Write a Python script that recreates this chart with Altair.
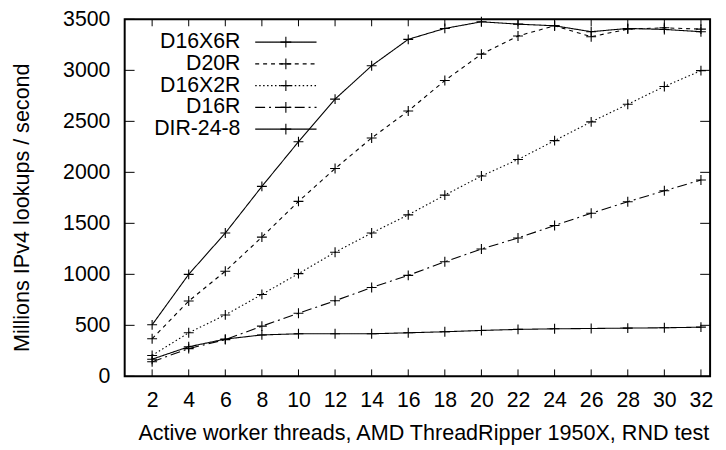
import altair as alt
import pandas as pd

# ---------------- data ----------------
threads = [2, 4, 6, 8, 10, 12, 14, 16, 18, 20, 22, 24, 26, 28, 30, 32]
series_names = ["D16X6R", "D20R", "D16X2R", "D16R", "DIR-24-8"]
d16x6r = [505, 1000, 1405, 1862, 2300, 2718, 3045, 3304, 3411, 3476, 3453, 3437, 3379, 3411, 3401, 3379]
d20r = [369, 738, 1030, 1365, 1715, 2037, 2337, 2602, 2900, 3159, 3337, 3437, 3330, 3404, 3417, 3404]
d16x2r = [205, 427, 602, 803, 1007, 1217, 1405, 1583, 1777, 1964, 2126, 2311, 2495, 2667, 2842, 2997]
d16r = [143, 272, 360, 492, 618, 741, 871, 990, 1123, 1249, 1356, 1479, 1599, 1712, 1819, 1925]
dir248 = [168, 290, 365, 406, 417, 417, 417, 427, 437, 450, 460, 466, 469, 473, 476, 482]
x_tick_values = [2, 4, 6, 8, 10, 12, 14, 16, 18, 20, 22, 24, 26, 28, 30, 32]
y_tick_values = [0, 500, 1000, 1500, 2000, 2500, 3000, 3500]

rows = []
for name, vals in zip(series_names, [d16x6r, d20r, d16x2r, d16r, dir248]):
    for t, v in zip(threads, vals):
        rows.append({"series": name, "threads": t, "mlps": v})
df = pd.DataFrame(rows)
xt_df = pd.DataFrame({"threads": x_tick_values})
yt_df = pd.DataFrame({"mlps": y_tick_values})
leg_df = pd.DataFrame({"series": series_names})

# ---------------- styling ----------------
W, H = 592, 361
FONT = "Liberation Sans"
FS = 21.5
TFS = 21.8
CROSS = "M-1,0H1M0,-1V1"

dash_scale = alt.Scale(domain=series_names,
                       range=[[1, 0], [4, 4], [1.5, 2.5], [10, 4, 2, 4], [1, 0]])
width_scale = alt.Scale(domain=series_names, range=[1.1, 1.1, 1.1, 1.1, 2.5])
xscale = alt.Scale(domain=[0.5, 32.5], nice=False, zero=False)
yscale = alt.Scale(domain=[0, 3500], nice=False, zero=False)
leg_scale = alt.Scale(type="point", domain=series_names, range=[23, 111], padding=0)

x_axis = alt.Axis(values=x_tick_values, title="Active worker threads, AMD ThreadRipper 1950X, RND test",
                  ticks=False, tickSize=0, domain=False, grid=False, format="d",
                  labelPadding=14, titleX=302, titleY=64, titleBaseline="alphabetic",
                  titleAnchor="middle", titleAlign="center")


def xenc():
    return alt.X("threads:Q", scale=xscale, axis=x_axis)


base = alt.Chart(df)

lines = base.mark_line(color="black").encode(
    x=xenc(),
    y=alt.Y("mlps:Q", scale=yscale,
            axis=alt.Axis(values=y_tick_values, title="Millions IPv4 lookups / second",
                          ticks=False, tickSize=0, domain=False, grid=False, format="d",
                          labelPadding=15, titleX=-97, titleY=190, titleBaseline="alphabetic",
                          titleAlign="center", titleAngle=270)),
    strokeDash=alt.StrokeDash("series:N", scale=dash_scale, legend=None),
    strokeWidth=alt.StrokeWidth("series:N", scale=width_scale, legend=None),
)

points = base.mark_point(shape=CROSS, size=100, filled=False, color="black",
                         strokeWidth=1.1, opacity=1).encode(
    x=xenc(),
    y=alt.Y("mlps:Q", scale=yscale, axis=None),
    detail="series:N",
)

xt_bottom = alt.Chart(xt_df).mark_rule(color="black", strokeWidth=1).encode(
    x=xenc(),
    y=alt.value(H), y2=alt.value(H - 7),
)
xt_top = alt.Chart(xt_df).mark_rule(color="black", strokeWidth=1).encode(
    x=xenc(),
    y=alt.value(0), y2=alt.value(7),
)
yt_left = alt.Chart(yt_df).mark_rule(color="black", strokeWidth=1).encode(
    y=alt.Y("mlps:Q", scale=yscale, axis=None),
    x=alt.value(0), x2=alt.value(10),
)
yt_right = alt.Chart(yt_df).mark_rule(color="black", strokeWidth=1).encode(
    y=alt.Y("mlps:Q", scale=yscale, axis=None),
    x=alt.value(W - 10), x2=alt.value(W),
)

leg_text = alt.Chart(leg_df).mark_text(align="right", baseline="middle", font=FONT,
                                        fontSize=FS, color="black").encode(
    text="series:N",
    x=alt.value(117),
    y=alt.Y("series:N", scale=leg_scale, axis=None),
)
leg_rule = alt.Chart(leg_df).mark_rule(color="black").encode(
    x=alt.value(132), x2=alt.value(194),
    y=alt.Y("series:N", scale=leg_scale, axis=None),
    strokeDash=alt.StrokeDash("series:N", scale=dash_scale, legend=None),
    strokeWidth=alt.StrokeWidth("series:N", scale=width_scale, legend=None),
)
leg_cross = alt.Chart(leg_df).mark_point(shape=CROSS, size=121, filled=False, color="black",
                                         strokeWidth=1.1, opacity=1).encode(
    x=alt.value(163),
    y=alt.Y("series:N", scale=leg_scale, axis=None),
)

chart = alt.layer(
    lines, points, xt_bottom, xt_top, yt_left, yt_right, leg_rule, leg_cross, leg_text
).resolve_scale(
    y="independent"
).properties(
    width=W, height=H,
    autosize=alt.AutoSizeParams(type="none"),
    padding={"left": 118, "top": 9, "right": 8, "bottom": 70},
).configure_view(
    stroke="black", strokeWidth=2
).configure_axis(
    labelFont=FONT, labelFontSize=FS, labelColor="black",
    titleFont=FONT, titleFontSize=TFS, titleColor="black", titleFontWeight="normal",
)

chart.save("out.html", embed_options={"renderer": "svg", "actions": False})
